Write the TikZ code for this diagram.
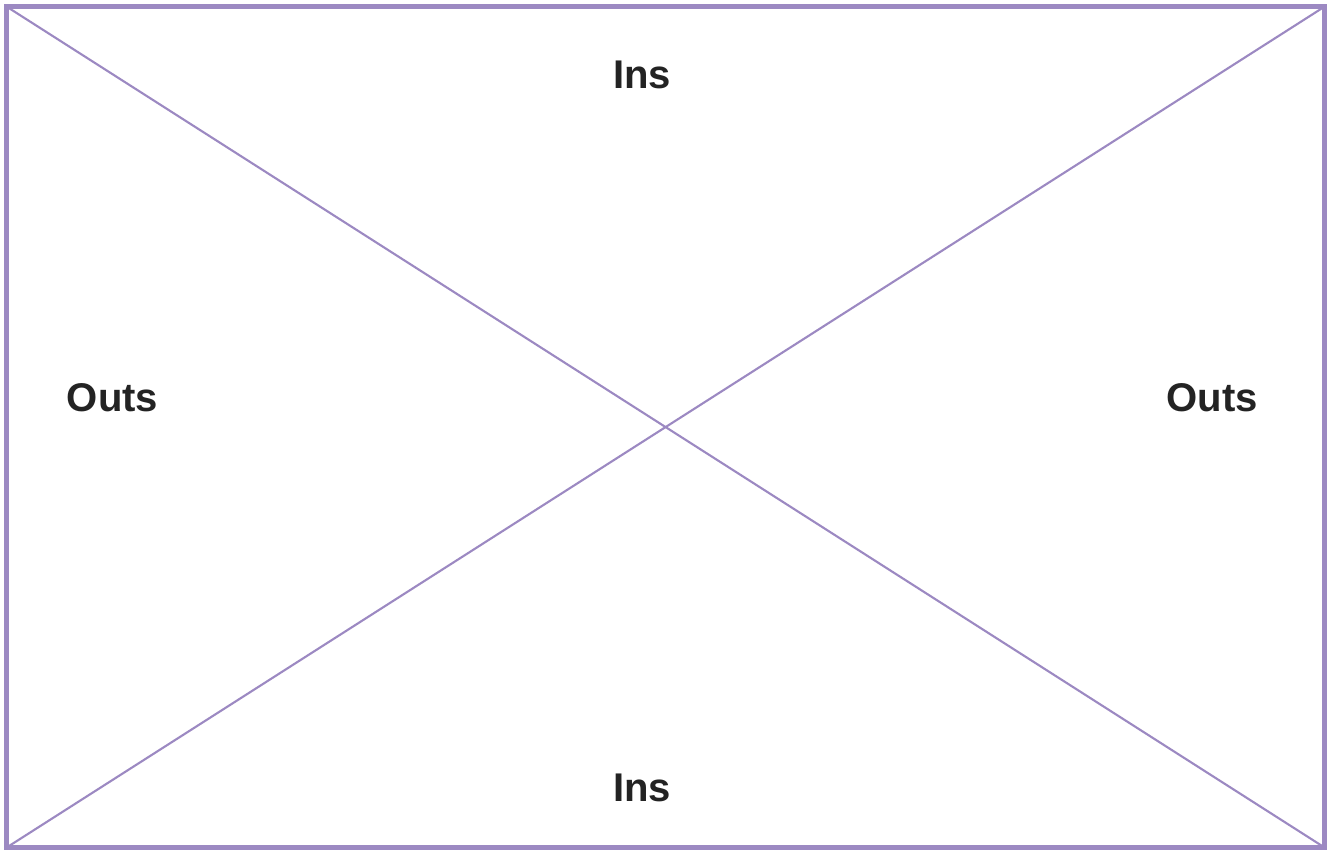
\documentclass[tikz,border=0pt]{standalone}
\usepackage{fontspec}
\setmainfont{Liberation Sans}
\usetikzlibrary{positioning}
\definecolor{frameLilac}{RGB}{156,137,194}
\definecolor{inkDark}{RGB}{35,35,35}
\tikzset{
  frame/.style={draw=frameLilac, line width=1.45pt},
  diag/.style={draw=frameLilac, line width=0.6pt},
  lbl/.style={font=\fontsize{11.4}{13}\selectfont\bfseries, text=inkDark, inner sep=0pt}
}
\begin{document}
\begin{tikzpicture}
\useasboundingbox (0,0) rectangle (13.31,8.5);
\coordinate (tl) at (0.067,8.433);
\coordinate (br) at (13.245,0.025);
\coordinate (tr) at (br |- tl);
\coordinate (bl) at (tl |- br);
\draw[frame] (tl) rectangle (br);
\draw[diag] (tl) -- (br);
\draw[diag] (bl) -- (tr);
\node[lbl] (insTop) at (6.42,7.75) {Ins};
\node[lbl] (insBot) at (6.42,0.62) {Ins};
\node[lbl] (outsL) at (1.125,4.52) {Outs};
\node[lbl] (outsR) at (12.12,4.52) {Outs};
\end{tikzpicture}
\end{document}
